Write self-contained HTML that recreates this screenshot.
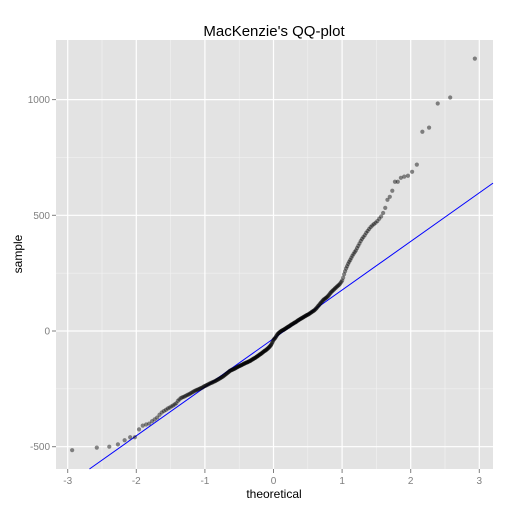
<!DOCTYPE html>
<html><head><meta charset="utf-8"><style>
body{margin:0;background:#fff;}
svg{display:block;font-family:"Liberation Sans",sans-serif;}
</style></head><body>
<svg id="chart" width="512" height="512">
<rect x="0" y="0" width="512" height="512" fill="#fff"/>
<rect x="56" y="40" width="437" height="429" fill="#e3e3e3"/>
<g id="grid"></g>
<g id="ticks"></g>
<line id="qqline" stroke="#0000ff" stroke-width="1"/>
<g id="points"></g>
<text x="274" y="36" text-anchor="middle" font-size="15" fill="#000">MacKenzie's QQ-plot</text>
<text x="274" y="498" text-anchor="middle" font-size="12" fill="#000">theoretical</text>
<text x="22" y="254" text-anchor="middle" font-size="12" fill="#000" transform="rotate(-90 22 254)">sample</text>
</svg>
<script>
const xTicks = [-3, -2, -1, 0, 1, 2, 3];
const yTicks = [-500, 0, 500, 1000];
const lineIntercept = -33;
const lineSlope = 210;
const sample = [
-515,-504,-500,-490,-472,-459,-459,-425,-409,-404,
-400,-390,-382,-374,-362,-352,-346,-341,-335,-331,
-326,-322,-317,-312,-302,-296,-290,-287,-285,-282,
-279,-276,-274,-271,-268,-265,-262,-259,-257,-255,
-253,-251,-249,-247,-245,-243,-240,-238,-236,-234,
-232,-230,-228,-226,-224,-223,-221,-219,-218,-216,
-214,-212,-210,-208,-206,-204,-202,-200,-198,-196,
-193,-191,-188,-186,-183,-181,-178,-176,-173,-171,
-170,-168,-167,-166,-164,-163,-161,-160,-158,-156,
-155,-153,-152,-151,-149,-148,-147,-145,-144,-142,
-141,-140,-138,-137,-136,-135,-134,-132,-131,-130,
-128,-127,-125,-123,-122,-120,-119,-117,-116,-114,
-112,-110,-109,-107,-105,-103,-101,-100,-98,-96,
-94,-92,-90,-88,-86,-85,-83,-81,-79,-77,
-75,-72,-70,-67,-64,-61,-57,-52,-47,-41,
-37,-34,-31,-28,-24,-20,-16,-13,-10,-8,
-6,-4,-2,0,1,3,4,5,7,8,
10,12,13,15,17,18,20,21,23,25,
27,28,30,31,33,35,36,38,39,41,
43,45,47,48,50,52,53,55,56,58,
60,61,63,65,66,68,69,71,72,74,
76,78,80,82,84,86,88,90,93,96,
99,103,107,110,114,118,122,125,129,133,
136,138,141,143,146,149,153,157,162,166,
170,173,177,180,184,187,191,194,198,201,
206,212,218,230,245,258,270,280,290,299,
307,316,325,333,341,348,358,368,378,389,
398,406,414,424,432,441,449,456,462,468,
475,485,495,510,532,567,580,606,645,645,
662,667,671,688,719,861,879,983,1009,1177
];
const NS='http://www.w3.org/2000/svg';
const X0=56,X1=493,Y0=40,Y1=469;
function xs(t){return 273.5+68.6*t;}
function ys(v){return 331-0.2314*v;}
function qnorm(p){
 const a=[-39.6968302866538,220.946098424521,-275.928510446969,138.357751867269,-30.6647980661472,2.50662827745924];
 const b=[-54.4760987982241,161.585836858041,-155.698979859887,66.8013118877197,-13.2806815528857];
 const c=[-0.00778489400243029,-0.322396458041136,-2.40075827716184,-2.54973253934373,4.37466414146497,2.93816398269878];
 const d=[0.00778469570904146,0.32246712907004,2.445134137143,3.75440866190742];
 let q,r;
 if(p<0.02425){q=Math.sqrt(-2*Math.log(p));return (((((c[0]*q+c[1])*q+c[2])*q+c[3])*q+c[4])*q+c[5])/((((d[0]*q+d[1])*q+d[2])*q+d[3])*q+1);}
 if(p>1-0.02425){q=Math.sqrt(-2*Math.log(1-p));return -(((((c[0]*q+c[1])*q+c[2])*q+c[3])*q+c[4])*q+c[5])/((((d[0]*q+d[1])*q+d[2])*q+d[3])*q+1);}
 q=p-0.5;r=q*q;return (((((a[0]*r+a[1])*r+a[2])*r+a[3])*r+a[4])*r+a[5])*q/(((((b[0]*r+b[1])*r+b[2])*r+b[3])*r+b[4])*r+1);
}
const grid=document.getElementById('grid');
const ticks=document.getElementById('ticks');
function mk(tag,attrs,parent){const e=document.createElementNS(NS,tag);for(const k in attrs)e.setAttribute(k,attrs[k]);parent.appendChild(e);return e;}
for(let i=0;i<xTicks.length-1;i++){const m=(xTicks[i]+xTicks[i+1])/2;
 const l=mk('line',{x1:xs(m),x2:xs(m),y1:Y0,y2:Y1,stroke:'#f2f2f2','stroke-width':0.6},grid);
 
 }
for(let i=0;i<yTicks.length-1;i++){const m=(yTicks[i]+yTicks[i+1])/2;
 const l=mk('line',{x1:X0,x2:X1,y1:ys(m),y2:ys(m),stroke:'#f2f2f2','stroke-width':0.6},grid);
 
 }
xTicks.forEach(t=>{const x=xs(t);
 const g=mk('line',{x1:x,x2:x,y1:Y0,y2:Y1,stroke:'#fff','stroke-width':1.2},grid);
 
 
 mk('line',{x1:x,x2:x,y1:Y1,y2:Y1+4,stroke:'#7f7f7f','stroke-width':1},ticks);
 const tx=mk('text',{x:x,y:Y1+15,'text-anchor':'middle','font-size':10,fill:'#7f7f7f'},ticks);
 tx.textContent=(t<0?'-':'')+Math.abs(t);
 
 });
yTicks.forEach(v=>{const y=ys(v);
 const g=mk('line',{x1:X0,x2:X1,y1:y,y2:y,stroke:'#fff','stroke-width':1.2},grid);
 
 
 mk('line',{x1:X0-4,x2:X0,y1:y,y2:y,stroke:'#7f7f7f','stroke-width':1},ticks);
 const tx=mk('text',{x:X0-6,y:y+3.5,'text-anchor':'end','font-size':10,fill:'#7f7f7f'},ticks);
 tx.textContent=(v<0?'-':'')+Math.abs(v);
 
 });
const ln=document.getElementById('qqline');
const tLo=((331-Y1)/0.2314-lineIntercept)/lineSlope;
const tA=Math.max(tLo,(X0-273.5)/68.6), tB=(X1-273.5)/68.6;
ln.setAttribute('x1',xs(tA));ln.setAttribute('y1',ys(lineIntercept+lineSlope*tA));
ln.setAttribute('x2',xs(tB));ln.setAttribute('y2',ys(lineIntercept+lineSlope*tB));
const pts=document.getElementById('points');
const n=sample.length;
const sorted=sample.slice().sort((a,b)=>a-b);
sorted.forEach((v,i)=>{const t=qnorm((i+0.5)/n);
 const c=mk('circle',{cx:xs(t),cy:ys(v),r:2.1,fill:'#000','fill-opacity':0.45},pts);
 
 });
</script>
</body></html>
